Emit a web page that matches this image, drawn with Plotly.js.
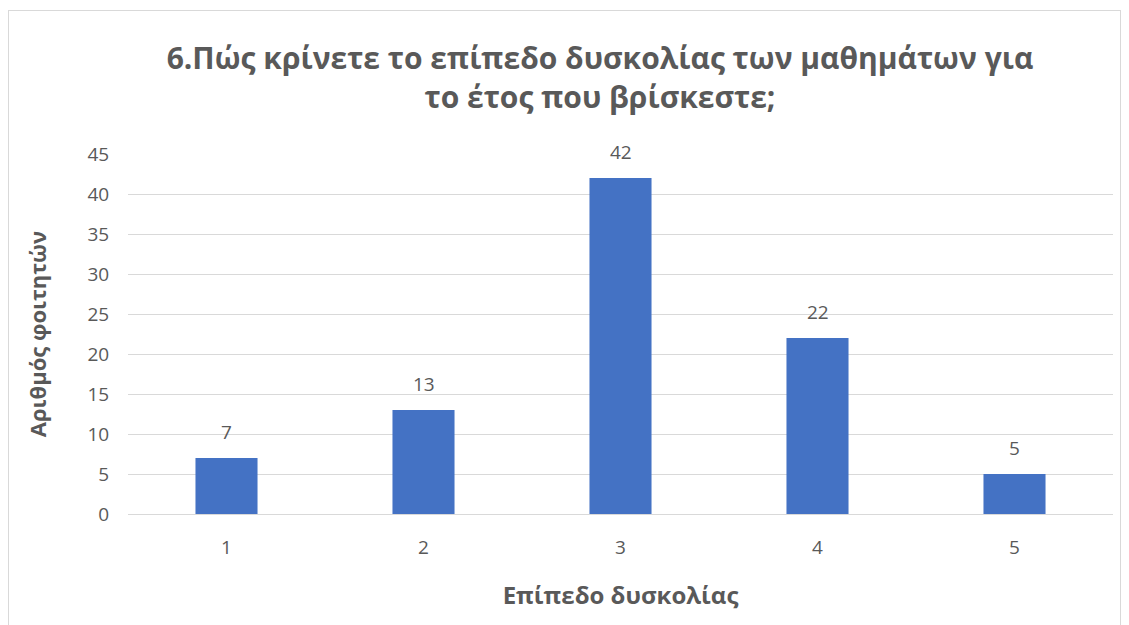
<!DOCTYPE html>
<html>
<head>
<meta charset="utf-8">
<script src="https://cdn.plot.ly/plotly-3.0.1.min.js"></script>
<style>
  html, body { margin: 0; padding: 0; background: #ffffff; }
  #wrap { position: relative; width: 1129px; height: 625px; overflow: hidden; }
  #chart { width: 1129px; height: 625px; }
  #frame { position: absolute; left: 8px; top: 10px; width: 1113px; height: 640px;
           border: 1px solid #d9d9d9; pointer-events: none; box-sizing: border-box; }
</style>
</head>
<body>
<div id="wrap">
  <div id="chart"></div>
  <div id="frame"></div>
</div>
<script>
const categories = ['1', '2', '3', '4', '5'];
const students = [7, 13, 42, 22, 5];
const yTicks = [0, 5, 10, 15, 20, 25, 30, 35, 40, 45];

const titleText = '6.Πώς κρίνετε το επίπεδο δυσκολίας των μαθημάτων για<br>το έτος που βρίσκεστε;';
const xTitle = 'Επίπεδο δυσκολίας';
const yTitle = 'Αριθμός φοιτητών';

const FONT = 'Open Sans, Noto Sans, sans-serif';
const GREY = '#595959';

const trace = {
  type: 'bar',
  x: categories,
  y: students,
  marker: { color: '#4472C4' },
  hoverinfo: 'x+y'
};

const labels = categories.map((c, i) => ({
  x: i, y: students[i], xref: 'x', yref: 'y',
  text: String(students[i]), showarrow: false,
  yanchor: 'middle', yshift: 26,
  font: { family: FONT, size: 19, color: GREY }
}));

const layout = {
  width: 1129, height: 625,
  margin: { l: 128, r: 16, t: 154, b: 111 },
  paper_bgcolor: '#ffffff', plot_bgcolor: '#ffffff',
  bargap: 0.685,
  showlegend: false,
  title: {
    text: titleText,
    x: 600 / 1129, xanchor: 'center',
    y: 1 - 69 / 625, yanchor: 'middle',
    font: { family: FONT, size: 30, color: GREY, weight: 'bold' }
  },
  xaxis: {
    type: 'category',
    range: [-0.5, categories.length - 0.5],
    autorange: false,
    showgrid: false, zeroline: false, showline: false,
    ticks: 'outside', ticklen: 16, tickcolor: 'rgba(0,0,0,0)',
    tickfont: { family: FONT, size: 19, color: GREY },
    title: { text: xTitle, standoff: 28, font: { family: FONT, size: 24, color: GREY, weight: 'bold' } }
  },
  yaxis: {
    range: [0, 45],
    autorange: false,
    tickvals: yTicks,
    showgrid: true, gridcolor: '#d9d9d9', gridwidth: 1,
    zeroline: true, zerolinecolor: '#d9d9d9', zerolinewidth: 1,
    showline: false,
    ticks: 'outside', ticklen: 14, tickcolor: 'rgba(0,0,0,0)',
    tickfont: { family: FONT, size: 19, color: GREY },
    title: { text: yTitle, standoff: 34, font: { family: FONT, size: 22, color: GREY, weight: 'bold' } }
  },
  annotations: labels
};

Plotly.newPlot('chart', [trace], layout, { displayModeBar: false, staticPlot: true });
</script>
</body>
</html>
